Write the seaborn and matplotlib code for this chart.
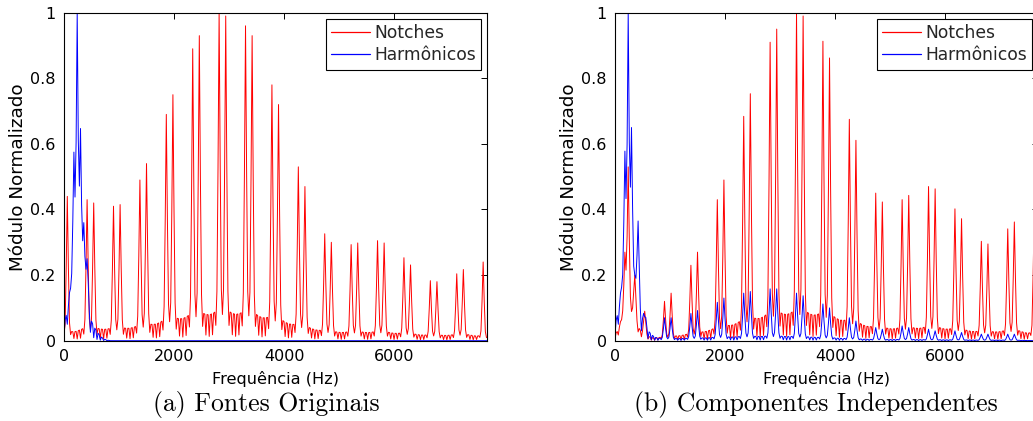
import numpy as np
import matplotlib
matplotlib.use("Agg")
import matplotlib.pyplot as plt
import seaborn as sns

# ---------------------------------------------------------------------------
# Spectral peaks (frequency in Hz, normalised magnitude at the peak)
# ---------------------------------------------------------------------------
# (a) original sources
notch_a_freq = [60, 420, 540, 900, 1020, 1380, 1500, 1860, 1980, 2340, 2460,
                2820, 2940, 3300, 3420, 3780, 3900, 4260, 4380, 4740, 4860,
                5220, 5340, 5700, 5820, 6180, 6300, 6660, 6780, 7140, 7260, 7620]
notch_a_mag = [0.44, 0.43, 0.42, 0.41, 0.415, 0.49, 0.54, 0.69, 0.75, 0.89, 0.93,
               1.00, 0.99, 0.96, 0.93, 0.78, 0.72, 0.53, 0.47, 0.326, 0.30,
               0.293, 0.298, 0.305, 0.298, 0.253, 0.231, 0.183, 0.18, 0.204, 0.217, 0.24]

harm_a_freq = [60, 120, 180, 240, 300, 360, 420]
harm_a_mag = [0.05, 0.16, 0.575, 1.00, 0.647, 0.36, 0.25]
harm_a_hump = (240, 110, 0.085)          # centre, spread, level of the low-frequency bed

# (b) independent components
notch_b_freq = [120, 180, 240, 360, 540, 900, 1020, 1380, 1500, 1860, 1980,
                2340, 2460, 2820, 2940, 3300, 3420, 3780, 3900, 4260, 4380,
                4740, 4860, 5220, 5340, 5700, 5820, 6180, 6300, 6660, 6780,
                7140, 7260, 7620]
notch_b_mag = [0.064, 0.27, 0.53, 0.20, 0.09, 0.12, 0.145, 0.23, 0.27, 0.43, 0.49,
               0.684, 0.753, 0.91, 0.95, 1.00, 0.99, 0.913, 0.862, 0.675, 0.611,
               0.45, 0.423, 0.43, 0.443, 0.47, 0.463, 0.402, 0.372, 0.303, 0.295,
               0.341, 0.362, 0.38]
notch_b_hump = (250, 100, 0.07)

harm_b_freq = [60, 120, 180, 240, 300, 360, 420, 540, 900, 1020, 1380, 1500,
               1860, 1980, 2340, 2460, 2820, 2940, 3300, 3420, 3780, 3900,
               4260, 4380, 4740, 4860, 5220, 5340, 5700, 5820, 6180, 6300,
               6660, 6780, 7140, 7260]
harm_b_mag = [0.05, 0.163, 0.578, 1.00, 0.65, 0.20, 0.365, 0.073, 0.07, 0.07,
              0.083, 0.092, 0.117, 0.13, 0.145, 0.15, 0.158, 0.158, 0.145, 0.137,
              0.112, 0.10, 0.07, 0.06, 0.04, 0.035, 0.045, 0.04, 0.035, 0.03,
              0.03, 0.025, 0.02, 0.02, 0.02, 0.02]
harm_b_hump = (240, 110, 0.07)

x_ticks = [0, 2000, 4000, 6000]
y_ticks = [0, 0.2, 0.4, 0.6, 0.8, 1.0]
y_tick_labels = ["0", "0.2", "0.4", "0.6", "0.8", "1"]
legend_labels = ["Notches", "Harmônicos"]
captions = ["(a) Fontes Originais", "(b) Componentes Independentes"]

# ---------------------------------------------------------------------------
# Sampled magnitude spectrum built from the peak list
# ---------------------------------------------------------------------------
DF = 20.0
freq = np.arange(0, 7700 + DF, DF)


def line_shape(d):
    """Response of one spectral line at distance d (Hz) from its centre."""
    core = 0.8 * np.exp(-(d / 22.0) ** 2) + 0.2 / (1 + (d / 30.0) ** 2)
    side = 0.4 * np.abs(np.sinc(d / 60.0)) * d ** 2 / (d ** 2 + 150.0 ** 2)
    taper = np.clip((450.0 - d) / 200.0, 0, 1)
    return (core + side) * taper


def hump_curve(x, hump):
    if hump is None:
        return np.zeros_like(x, dtype=float)
    c, s, h = hump
    return h * np.exp(-0.5 * ((x - c) / s) ** 2)


def spectrum(peak_f, peak_h, hump=None):
    centres = np.round(np.asarray(peak_f, float) / DF) * DF
    target = np.asarray(peak_h, float)
    # line amplitudes chosen so the curve passes through each listed peak value
    mix = line_shape(np.abs(centres[:, None] - centres[None, :]))
    amp = np.linalg.solve(mix, target - hump_curve(centres, hump))
    amp = np.clip(amp, 0, None)
    shapes = line_shape(np.abs(freq[:, None] - centres[None, :]))
    return shapes @ amp + hump_curve(freq, hump)


panels = [
    (spectrum(notch_a_freq, notch_a_mag), spectrum(harm_a_freq, harm_a_mag, harm_a_hump)),
    (spectrum(notch_b_freq, notch_b_mag, notch_b_hump), spectrum(harm_b_freq, harm_b_mag, harm_b_hump)),
]

# ---------------------------------------------------------------------------
# Figure
# ---------------------------------------------------------------------------
sns.set_theme(style="white")
plt.rcParams.update({
    "font.family": ["DejaVu Sans"],
    "xtick.direction": "in",
    "ytick.direction": "in",
    "xtick.top": True,
    "ytick.right": True,
    "axes.edgecolor": "black",
    "axes.linewidth": 0.8,
})

W, H = 1033, 421
fig = plt.figure(figsize=(W / 100, H / 100), dpi=100)
fig.patch.set_facecolor("white")

ax_w, ax_h = 423, 328
bottom = (H - 340.7) / H
lefts = [64, 615]
caption_x = [266, 816]

for i, (notch, harm) in enumerate(panels):
    ax = fig.add_axes([lefts[i] / W, bottom, ax_w / W, ax_h / H])
    sns.lineplot(x=freq, y=notch, ax=ax, color="#ff0000", lw=0.7,
                 estimator=None, legend=False)
    sns.lineplot(x=freq, y=harm, ax=ax, color="#0000ff", lw=0.7,
                 estimator=None, legend=False)
    ax.set_xlim(0, 7690)
    ax.set_ylim(0, 1)
    ax.set_xticks(x_ticks)
    ax.set_xticklabels([str(t) for t in x_ticks])
    ax.set_yticks(y_ticks)
    ax.set_yticklabels(y_tick_labels)
    ax.tick_params(axis="both", which="both", length=4, width=0.7,
                   color="black", labelsize=11.5, labelcolor="black",
                   top=True, right=True)
    ax.tick_params(axis="x", pad=6)
    ax.tick_params(axis="y", pad=6)
    for sp in ax.spines.values():
        sp.set_visible(True)
        sp.set_color("black")
        sp.set_linewidth(0.8)
    ax.set_xlabel("Frequência (Hz)", fontsize=11.6, color="black", labelpad=5)
    ax.set_ylabel("Módulo Normalizado", fontsize=13.2, color="black", labelpad=2)

    handles = [plt.Line2D([], [], color="#ff0000", lw=0.9),
               plt.Line2D([], [], color="#0000ff", lw=0.9)]
    leg = ax.legend(handles, legend_labels, loc="upper right",
                    bbox_to_anchor=(1 - 6 / ax_w, 1 - 6 / ax_h),
                    borderaxespad=0, fontsize=12.3, frameon=True,
                    fancybox=False, framealpha=1, edgecolor="black",
                    handlelength=2.28, handletextpad=0.23, borderpad=0.3,
                    labelspacing=0.27)
    leg.get_frame().set_linewidth(0.8)

    fig.text(caption_x[i] / W, 1 - 404 / H, captions[i], ha="center",
             va="center", fontsize=18.5, family="cmr10", color="black")

fig.savefig("out.png", dpi=100, facecolor="white")
